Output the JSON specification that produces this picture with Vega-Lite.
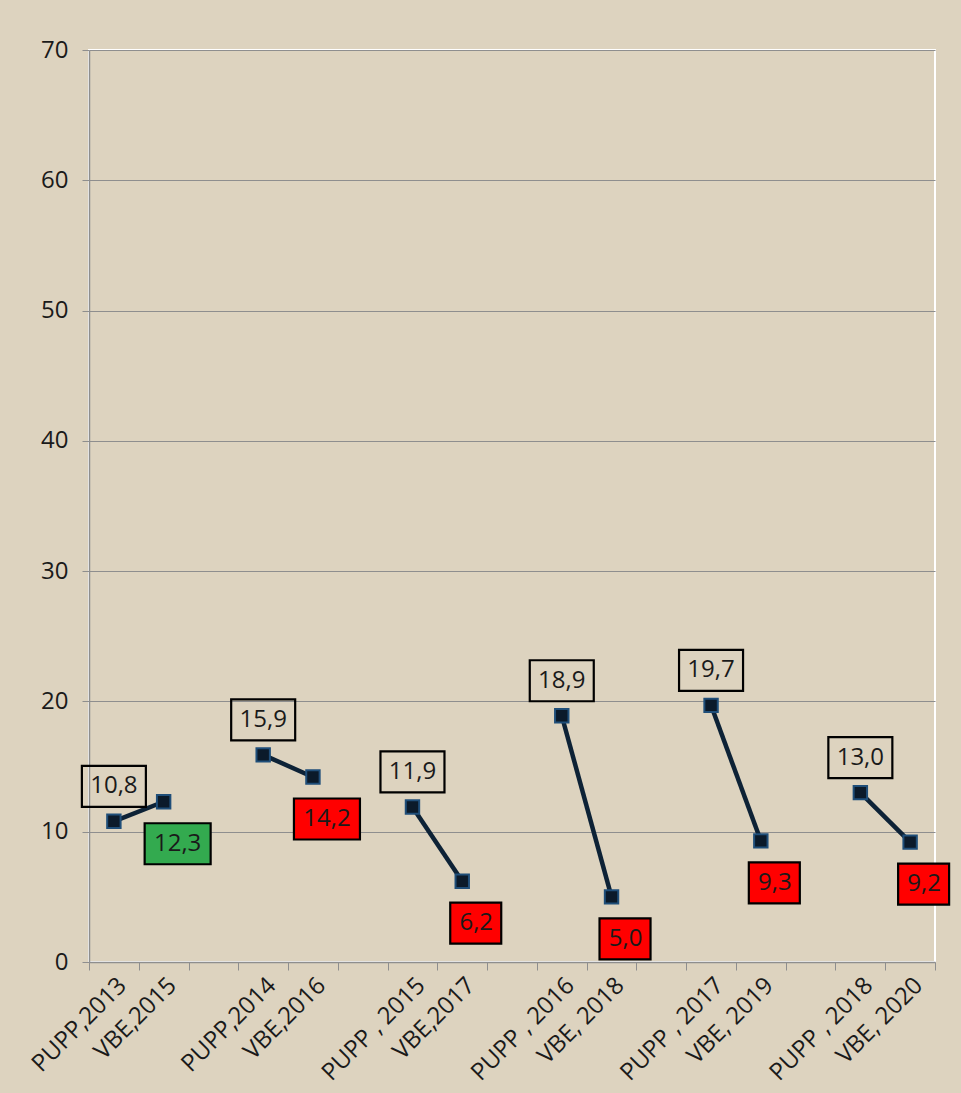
{
  "$schema": "https://vega.github.io/schema/vega-lite/v6.json",
  "width": 846,
  "height": 912,
  "autosize": "none",
  "padding": {"left": 89, "top": 50, "right": 26, "bottom": 131},
  "background": "#DDD3BF",
  "config": {
    "locale": {"number": {"decimal": ",", "thousands": ".", "grouping": [3], "currency": ["", " €"]}},
    "view": {"stroke": "#FFFFFF", "strokeWidth": 2},
    "font": "Open Sans"
  },
  "data": {
    "values": [
      {"pair": "2013", "category": "PUPP,2013", "series": "PUPP", "status": "baseline", "value": 10.8},
      {"pair": "2013", "category": "VBE,2015", "series": "VBE", "status": "increase", "value": 12.3},
      {"pair": "2014", "category": "PUPP,2014", "series": "PUPP", "status": "baseline", "value": 15.9},
      {"pair": "2014", "category": "VBE,2016", "series": "VBE", "status": "decrease", "value": 14.2},
      {"pair": "2015", "category": "PUPP , 2015", "series": "PUPP", "status": "baseline", "value": 11.9},
      {"pair": "2015", "category": "VBE,2017", "series": "VBE", "status": "decrease", "value": 6.2},
      {"pair": "2016", "category": "PUPP , 2016", "series": "PUPP", "status": "baseline", "value": 18.9},
      {"pair": "2016", "category": "VBE, 2018", "series": "VBE", "status": "decrease", "value": 5.0},
      {"pair": "2017", "category": "PUPP , 2017", "series": "PUPP", "status": "baseline", "value": 19.7},
      {"pair": "2017", "category": "VBE, 2019", "series": "VBE", "status": "decrease", "value": 9.3},
      {"pair": "2018", "category": "PUPP , 2018", "series": "PUPP", "status": "baseline", "value": 13.0},
      {"pair": "2018", "category": "VBE, 2020", "series": "VBE", "status": "decrease", "value": 9.2}
    ]
  },
  "encoding": {
    "x": {
      "field": "category",
      "type": "nominal",
      "sort": null,
      "scale": {
        "domain": ["PUPP,2013", "VBE,2015", " ", "PUPP,2014", "VBE,2016", "  ", "PUPP , 2015", "VBE,2017", "   ", "PUPP , 2016", "VBE, 2018", "    ", "PUPP , 2017", "VBE, 2019", "     ", "PUPP , 2018", "VBE, 2020"],
        "paddingInner": 0, "paddingOuter": 0
      },
      "axis": {
        "title": null,
        "labelAngle": -45,
        "labelFontSize": 24,
        "labelColor": "#1A1A1A",
        "labelFont": "Open Sans",
        "labelPadding": 3,
        "tickBand": "extent",
        "tickSize": 8,
        "tickColor": "#8E8E8E",
        "domainColor": "#8E8E8E",
        "domainWidth": 1.5,
        "grid": false
      }
    },
    "y": {
      "field": "value",
      "type": "quantitative",
      "scale": {"domain": [0, 70], "nice": false},
      "axis": {
        "title": null,
        "values": [0, 10, 20, 30, 40, 50, 60, 70],
        "format": "d",
        "labelFontSize": 24,
        "labelColor": "#1A1A1A",
        "labelPadding": 14,
        "tickSize": 7,
        "tickColor": "#8E8E8E",
        "domainColor": "#8E8E8E",
        "domainWidth": 1.5,
        "gridColor": "#8E8E8E",
        "gridWidth": 1.2
      }
    }
  },
  "layer": [
    {
      "mark": {"type": "line", "color": "#0D2236", "strokeWidth": 4.5},
      "encoding": {"detail": {"field": "pair"}}
    },
    {
      "mark": {"type": "point", "shape": "square", "filled": true, "size": 180, "fill": "#0B1A2A", "stroke": "#1F4E79", "strokeWidth": 2, "opacity": 1}
    },
    {
      "transform": [{"filter": "datum.series === 'PUPP'"}],
      "mark": {"type": "point", "filled": false, "size": 4, "stroke": "#000000", "strokeWidth": 2.2, "opacity": 1, "shape": "M-32,-55.5h64v41h-64Z"}
    },
    {
      "transform": [{"filter": "datum.series === 'PUPP'"}],
      "mark": {"type": "text", "fontSize": 24, "dy": -35, "color": "#1A1A1A", "baseline": "middle", "align": "center"},
      "encoding": {"text": {"field": "value", "type": "quantitative", "format": ".1f"}}
    },
    {
      "transform": [{"filter": "datum.series === 'VBE'"}],
      "mark": {"type": "point", "filled": true, "size": 4, "stroke": "#000000", "strokeWidth": 2.2, "opacity": 1},
      "encoding": {
        "fill": {"field": "status", "type": "nominal", "scale": {"domain": ["increase", "decrease"], "range": ["#33AA4F", "#FF0000"]}, "legend": null},
        "shape": {
          "condition": {"test": "datum.value >= 10", "value": "M-19,21.5h66v41h-66Z"},
          "value": "M-12,21.5h51v41h-51Z"
        }
      }
    },
    {
      "transform": [{"filter": "datum.series === 'VBE'"}],
      "mark": {"type": "text", "fontSize": 24, "dx": 14, "dy": 42, "color": "#1A1A1A", "baseline": "middle", "align": "center"},
      "encoding": {"text": {"field": "value", "type": "quantitative", "format": ".1f"}}
    }
  ]
}
